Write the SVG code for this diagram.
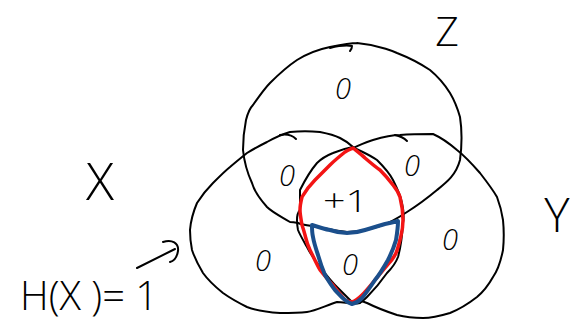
<svg xmlns="http://www.w3.org/2000/svg" width="573" height="323" viewBox="0 0 573 323">
<style>
.c{fill:none;stroke:#000;stroke-width:2;stroke-linejoin:round;stroke-linecap:round}
.t{font-family:"Open Sans","Liberation Sans",Arial,sans-serif;font-weight:300;fill:#000}
.n{font-family:"Open Sans","Liberation Sans",Arial,sans-serif;font-weight:300;font-style:italic;font-size:29px;text-anchor:middle;fill:#000}
</style>
<rect width="573" height="323" fill="#fff"/>
<g id="circle-Z">
<path class="c" d="M357,43 C380,45 397,53 397,53 C415,60 430,70 430,70 C442,80 450,93 450,93 C456,103 460,117 460,117 C462,130 462,145 460,160 C456,175 447,182 437,190 C425,200 415,207 407,212 C398,218 390,223 380,226 C365,231 355,232 347,232 C330,230 320,227 312,226 C305,225 300,224 298,223 C293,222 290,222 290,222 C280,216 272,212 267,207 C258,197 254,190 252,183 C246,170 244,160 243,150 C243,135 245,125 246,120 C248,112 250,108 253,105 C260,95 265,88 270,83 C280,73 288,66 297,60 C310,52 320,49 330,47 C340,45 350,43 357,43"/>
<path class="c" d="M330,48 C338,46 346,45 352,46 C352,48 351,50 350,51"/>
</g>
<g id="circle-X">
<path class="c" d="M290,132 C300,131 310,131 320,132 C330,134 336,136 340,138 C346,141 350,144 353,147 C362,152 370,155 377,160 C385,168 390,174 393,180 C398,190 401,197 402,203 C404,212 404,218 403,223 C402,240 400,250 398,257 C395,265 391,269 387,273 C380,283 372,292 367,297 C363,301 361,302 360,303 C352,305 345,302 337,302 C325,306 315,311 307,312 C298,313 290,313 280,313 C265,312 255,310 247,307 C237,302 230,298 223,293 C213,285 208,280 203,273 C197,263 194,256 192,250 C190,240 190,235 190,230 C191,218 194,210 197,203 C202,195 207,189 213,183 C220,176 225,171 230,167 C237,161 242,157 247,153 C255,148 261,145 267,142 C276,137 283,134 290,132"/>
<path class="c" d="M280,135 C286,134 292,135 296,139"/>
</g>
<g id="circle-Y">
<path class="c" d="M353,148 C360,145 366,142 373,140 C383,137 392,135 400,135 C412,134 425,134 433,134 C442,138 450,144 457,150 C466,157 473,165 480,173 C487,182 493,190 497,197 C500,205 502,213 503,220 C504,230 504,240 503,250 C501,260 498,270 493,277 C488,286 483,292 477,297 C468,304 460,309 450,313 C440,316 432,318 423,318 C413,318 405,317 397,315 C385,311 375,307 367,303 C362,301 359,300 357,300 C355,301 354,302 353,303 C347,297 342,292 337,287 C330,280 325,273 320,267 C314,259 310,253 307,247 C303,240 300,235 298,230 C297,225 297,222 297,220 C297,215 298,212 300,210 C300,203 300,196 300,190 C305,180 311,170 317,163 C322,158 328,155 333,153 C340,150 347,148 353,147"/>
<path class="c" d="M395,135 C400,136 404,138 407,141"/>
</g>
<g id="region-red">
<path d="M353,148 C358,152 362,155 365,158 C372,164 377,168 380,170 C386,176 390,181 393,185 C397,190 399,194 400,197 C402,205 403,213 403,220 C403,230 401,235 400,240 C398,247 397,252 395,255 C393,258 392,260 390,262 C385,268 380,274 375,280 C370,286 366,291 362,295 C358,299 355,301 352,302 C349,302 347,301 345,300 C341,295 337,290 333,285 C328,280 324,275 320,270 C316,263 313,256 310,250 C307,244 306,239 305,235 C304,231 303,228 302,225 C301,219 300,214 300,210 C300,205 301,201 302,197 C306,190 310,185 315,180 C320,175 325,170 330,165 C335,160 340,156 345,152 C348,150 351,149 353,148 Z" fill="none" stroke="#f31414" stroke-width="3.5" stroke-linejoin="round"/>
</g>
<g id="region-blue">
<path d="M312,225 C318,227 324,229 330,230 C336,232 341,233 347,233 C353,233 359,232 365,230 C372,228 378,226 385,224 C390,223 394,222 398,221 C398,228 397,234 396,240 C394,247 391,254 388,260 C384,267 380,274 375,280 C371,286 367,292 362,298 C359,301 356,303 352,304 C349,303 347,302 345,300 C341,297 338,293 335,290 C331,285 328,280 325,275 C322,268 320,262 318,255 C316,249 314,243 313,237 C312,233 312,229 312,225 Z" fill="none" stroke="#1b4f8c" stroke-width="4" stroke-linejoin="round"/>
</g>
<g id="connectors">
<path class="c" d="M137,268 L175,249"/>
<path class="c" d="M163,242 C172,239 179,243 178,251 C177,257 174,261 170,262"/>
</g>
<g id="labels">
<text class="t" x="447" y="46" font-size="41" text-anchor="middle">Z</text>
<text class="t" x="100" y="200" font-size="52" text-anchor="middle">X</text>
<text class="t" x="557" y="232" font-size="48" text-anchor="middle">Y</text>
<text class="t" x="20" y="310" font-size="40" textLength="138" lengthAdjust="spacingAndGlyphs">H(X )= 1</text>
<text class="n" x="343" y="99">0</text>
<text class="n" x="287" y="186">0</text>
<text class="n" x="412" y="176">0</text>
<text class="n" x="263" y="271">0</text>
<text class="n" x="350" y="275">0</text>
<text class="n" x="450" y="250">0</text>
<text class="t" x="323" y="212" font-size="32" textLength="45" lengthAdjust="spacingAndGlyphs">+1</text>
</g>
</svg>
